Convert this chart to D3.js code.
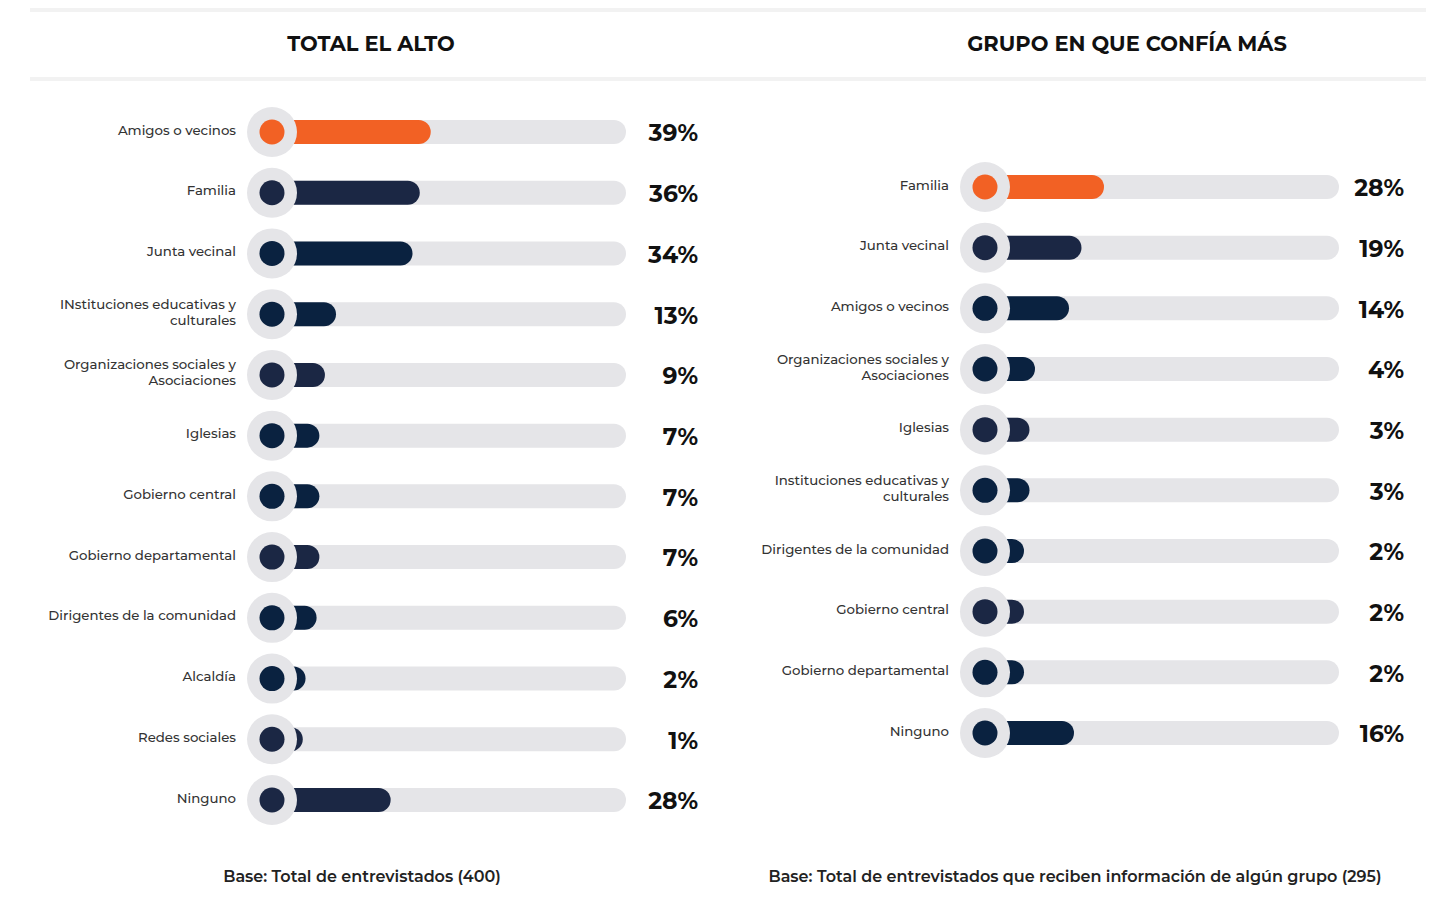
<!DOCTYPE html>
<html>
<head>
<meta charset="utf-8">
<script src="https://cdn.jsdelivr.net/npm/d3@7"></script>
<style>
  body { margin: 0; background: #fff; }
  svg { display: block; font-family: Montserrat, "Noto Sans", sans-serif; }
</style>
</head>
<body>
<svg id="chart"></svg>
<script>
// data
const leftTitle = "TOTAL EL ALTO";
const leftCategories = ["Amigos o vecinos", "Familia", "Junta vecinal", "INstituciones educativas y|culturales",
  "Organizaciones sociales y|Asociaciones", "Iglesias", "Gobierno central", "Gobierno departamental",
  "Dirigentes de la comunidad", "Alcaldía", "Redes sociales", "Ninguno"];
const leftValues = [39, 36, 34, 13, 9, 7, 7, 7, 6, 2, 1, 28];
const leftBase = "Base: Total de entrevistados (400)";

const rightTitle = "GRUPO EN QUE CONFÍA MÁS";
const rightCategories = ["Familia", "Junta vecinal", "Amigos o vecinos", "Organizaciones sociales y|Asociaciones",
  "Iglesias", "Instituciones educativas y|culturales", "Dirigentes de la comunidad", "Gobierno central",
  "Gobierno departamental", "Ninguno"];
const rightValues = [28, 19, 14, 4, 3, 3, 2, 2, 2, 16];
const rightBase = "Base: Total de entrevistados que reciben información de algún grupo (295)";

// navy shade per row (0 = lighter navy, 1 = darker navy), first row is orange
const leftShade = [0, 0, 1, 1, 0, 1, 1, 0, 1, 1, 0, 0];
const rightShade = [0, 0, 1, 1, 0, 1, 1, 0, 1, 1];

const W = 1433, H = 905;
const orange = "#f26124";
const navy = ["#1b2744", "#0a2240"];
const trackGray = "#e5e5e8";

const svg = d3.select("#chart").attr("width", W).attr("height", H);

// header bands
svg.append("rect").attr("x", 30).attr("y", 8).attr("width", 1396).attr("height", 4).attr("fill", "#f2f2f2");
svg.append("rect").attr("x", 30).attr("y", 77).attr("width", 1396).attr("height", 4).attr("fill", "#f2f2f2");

function panel(opt) {
  const y = d3.scalePoint().domain(opt.categories).range(opt.yRange);
  // bar length measured from circle centre (piecewise, as drawn in the original)
  const len = d3.scaleLinear().domain(opt.lenDomain).range(opt.lenRange);
  const g = svg.append("g");

  g.append("text")
    .attr("x", opt.titleX).attr("y", 45.5)
    .attr("text-anchor", "middle").attr("dominant-baseline", "middle")
    .attr("font-size", 21).attr("font-weight", 700).attr("fill", "#111")
    .text(opt.title);

  const rows = g.selectAll(".row")
    .data(opt.categories.map((c, i) => ({ c, v: opt.values[i], i })))
    .enter().append("g")
    .attr("class", "row")
    .attr("transform", d => "translate(0," + y(d.c) + ")");

  const color = d => d.i === 0 ? orange : navy[opt.shade[d.i]];

  // track
  rows.append("rect")
    .attr("x", opt.cx).attr("y", -12)
    .attr("width", opt.trackEnd - opt.cx).attr("height", 24)
    .attr("rx", 12).attr("fill", trackGray);

  // value bar
  rows.append("rect")
    .attr("x", opt.cx).attr("y", -12)
    .attr("width", d => len(d.v)).attr("height", 24)
    .attr("rx", 12).attr("fill", color);

  // circle marker
  rows.append("circle").attr("cx", opt.cx).attr("r", 25).attr("fill", trackGray);
  rows.append("circle").attr("cx", opt.cx).attr("r", 12.5).attr("fill", color);

  // category label
  rows.each(function (d) {
    const lines = d.c.split("|");
    const t = d3.select(this).append("text")
      .attr("x", opt.labelX).attr("text-anchor", "end")
      .attr("font-size", 13.3).attr("font-weight", 500).attr("fill", "#333");
    lines.forEach((ln, k) => {
      t.append("tspan")
        .attr("x", opt.labelX)
        .attr("y", (k - (lines.length - 1) / 2) * 16 - 1)
        .attr("dominant-baseline", "middle")
        .text(ln);
    });
  });

  // value label
  rows.append("text")
    .attr("x", opt.valueX).attr("y", 3)
    .attr("text-anchor", "end").attr("dominant-baseline", "middle")
    .attr("font-size", 23.5).attr("font-weight", 700).attr("fill", "#111")
    .text(d => d.v + "%");

  g.append("text")
    .attr("x", opt.baseX).attr("y", 878)
    .attr("text-anchor", "middle").attr("dominant-baseline", "middle")
    .attr("font-size", 16).attr("font-weight", 600).attr("fill", "#222")
    .text(opt.base);
}

panel({
  title: leftTitle, categories: leftCategories, values: leftValues, shade: leftShade, base: leftBase,
  yRange: [132, 800], cx: 272, trackEnd: 626, labelX: 236, valueX: 698, titleX: 371, baseX: 362,
  lenDomain: [0, 13, 100], lenRange: [28, 64, 381]
});

panel({
  title: rightTitle, categories: rightCategories, values: rightValues, shade: rightShade, base: rightBase,
  yRange: [187, 733], cx: 985, trackEnd: 1339, labelX: 949, valueX: 1404, titleX: 1127, baseX: 1075,
  lenDomain: [0, 4, 14, 100], lenRange: [28, 50, 84, 299]
});
</script>
</body>
</html>
